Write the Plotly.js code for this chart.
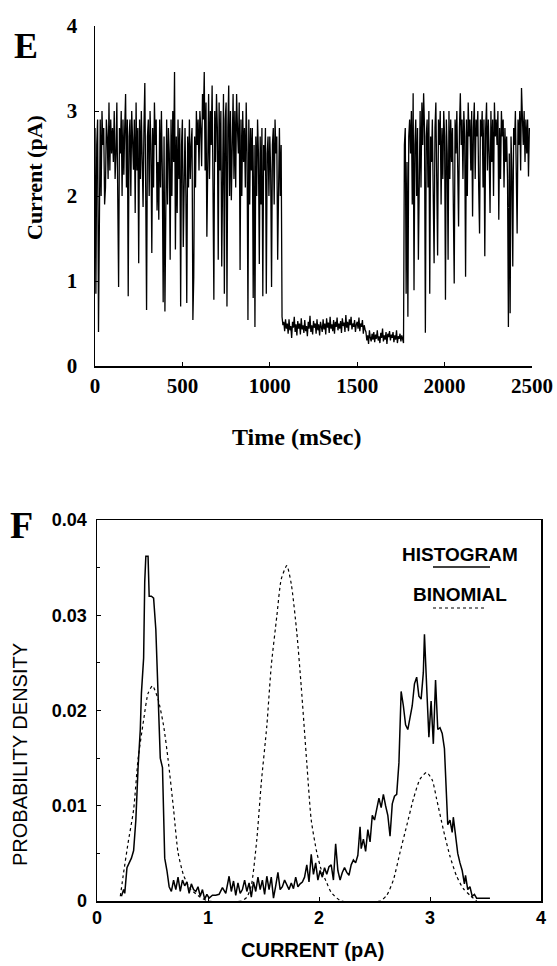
<!DOCTYPE html>
<html>
<head>
<meta charset="utf-8">
<script src="https://cdn.plot.ly/plotly-3.0.1.min.js"></script>
<style>
html,body{margin:0;padding:0;background:#fff;}
#chart{width:557px;height:966px;}
</style>
</head>
<body>
<div id="chart"></div>
<script>
// ---------- Panel E: single-channel current trace ----------
const traceStartMs = 0;
const traceStepMs = 5;
const traceCurrent = [
  2.8, 0.85, 2.6, 2.9, 0.4, 2.5, 2.9, 2.0, 3.0, 2.6, 2.8, 1.9, 2.1, 2.9, 2.7, 2.2, 3.1, 2.3, 2.9, 2.5,
  2.8, 2.4, 3.0, 2.2, 2.5, 3.1, 1.9, 0.93, 2.8, 2.5, 3.0, 2.0, 2.9, 2.25, 2.8, 3.2, 2.1, 2.9, 0.82, 2.7,
  2.9, 2.0, 3.0, 2.7, 2.31, 2.9, 1.8, 3.1, 2.3, 2.8, 1.21, 2.9, 2.2, 3.0, 2.5, 1.87, 2.8, 3.33, 2.1, 0.66,
  2.7, 2.9, 2.0, 3.0, 2.6, 1.33, 2.8, 2.1, 3.1, 2.6, 2.9, 1.83, 2.4, 1.72, 2.9, 2.1, 3.0, 2.3, 0.75, 2.7,
  0.64, 2.6, 2.9, 1.9, 2.8, 2.5, 1.25, 2.9, 2.0, 3.0, 2.4, 3.46, 1.37, 2.7, 1.8, 2.9, 2.2, 2.8, 0.7, 2.6,
  2.9, 1.4, 2.5, 2.8, 2.0, 0.74, 2.7, 2.1, 2.9, 2.2, 2.6, 2.8, 0.54, 1.05, 2.7, 2.1, 3.0, 2.6, 2.9, 2.3,
  3.0, 2.8, 2.35, 3.2, 2.9, 3.46, 2.3, 3.1, 1.52, 2.9, 3.2, 2.2, 3.0, 2.6, 3.3, 2.1, 0.78, 3.0, 2.4, 3.2,
  2.8, 1.25, 3.1, 2.3, 3.0, 1.17, 2.8, 3.2, 0.85, 2.9, 3.1, 0.7, 2.8, 3.3, 2.0, 3.0, 1.95, 2.9, 3.2, 2.2,
  3.0, 2.1, 3.2, 2.8, 2.5, 3.1, 1.13, 2.9, 2.0, 3.0, 2.4, 2.8, 2.1, 3.1, 2.5, 0.54, 2.9, 1.9, 2.8, 2.3,
  2.8, 0.8, 2.6, 0.46, 2.7, 2.0, 2.9, 2.5, 1.2, 2.7, 1.9, 2.8, 0.82, 2.6, 2.3, 2.8, 0.85, 2.5, 2.7, 2.0,
  2.7, 2.3, 0.93, 2.6, 2.8, 1.9, 2.9, 2.5, 2.7, 1.25, 2.4, 2.8, 2.0, 2.6, 0.58, 0.48, 0.52, 0.41, 0.55, 0.44,
  0.50, 0.38, 0.55, 0.42, 0.47, 0.33, 0.52, 0.45, 0.58, 0.40, 0.49, 0.36, 0.53, 0.44, 0.50, 0.37, 0.56, 0.43, 0.48, 0.39,
  0.54, 0.41, 0.47, 0.35, 0.52, 0.44, 0.59, 0.40, 0.48, 0.37, 0.53, 0.45, 0.50, 0.38, 0.55, 0.42, 0.49, 0.36, 0.52, 0.46,
  0.40, 0.55, 0.43, 0.50, 0.37, 0.56, 0.45, 0.51, 0.39, 0.58, 0.44, 0.49, 0.41, 0.54, 0.38, 0.52, 0.46, 0.57, 0.42, 0.50,
  0.44, 0.53, 0.39, 0.56, 0.47, 0.51, 0.40, 0.60, 0.45, 0.52, 0.41, 0.55, 0.48, 0.58, 0.43, 0.50, 0.46, 0.54, 0.40, 0.49,
  0.52, 0.44, 0.57, 0.41, 0.50, 0.46, 0.54, 0.38, 0.48, 0.43, 0.40, 0.30, 0.36, 0.26, 0.42, 0.33, 0.29, 0.38, 0.31, 0.40,
  0.28, 0.37, 0.32, 0.42, 0.30, 0.35, 0.27, 0.39, 0.33, 0.44, 0.29, 0.36, 0.31, 0.40, 0.26, 0.38, 0.34, 0.41, 0.30, 0.37,
  0.33, 0.40, 0.28, 0.36, 0.31, 0.42, 0.27, 0.35, 0.32, 0.38, 0.29, 0.36, 0.30, 0.27, 2.6, 2.8, 0.85, 2.4, 0.58, 2.7,
  2.9, 2.5, 3.0, 1.9, 3.21, 0.89, 2.6, 2.9, 2.0, 2.8, 1.25, 2.7, 3.0, 2.1, 3.1, 2.6, 3.21, 2.8, 0.39, 2.7,
  2.9, 2.1, 3.0, 0.85, 2.7, 2.4, 2.9, 2.0, 1.21, 2.8, 3.1, 2.2, 1.3, 2.9, 2.6, 3.0, 1.9, 2.8, 2.2, 3.0,
  2.7, 0.78, 2.9, 2.5, 1.25, 3.0, 2.2, 2.9, 2.4, 2.8, 2.0, 0.97, 2.9, 2.5, 3.0, 2.1, 1.64, 2.8, 3.21, 2.6,
  2.9, 2.2, 3.0, 2.7, 1.05, 2.9, 2.0, 3.1, 2.7, 2.9, 2.3, 3.0, 1.76, 2.8, 3.1, 2.2, 2.9, 2.7, 3.0, 2.1,
  1.56, 2.9, 2.7, 3.0, 2.1, 2.9, 1.29, 2.8, 3.1, 2.3, 2.9, 2.5, 1.8, 3.0, 2.4, 2.9, 2.0, 3.1, 2.7, 2.9,
  2.6, 3.0, 1.72, 2.8, 2.2, 3.0, 2.7, 2.9, 2.1, 2.8, 2.4, 2.7, 2.2, 0.46, 2.5, 0.62, 2.7, 2.3, 1.17, 2.8,
  2.6, 3.0, 2.4, 1.56, 2.9, 2.6, 3.0, 2.3, 3.27, 2.8, 2.6, 3.0, 2.4, 2.9, 2.5, 2.9, 2.23, 2.8
];
const timeTicks = [0, 500, 1000, 1500, 2000, 2500];
const currentTicks = [0, 1, 2, 3, 4];

// ---------- Panel F: amplitude histogram and binomial prediction ----------
const histCurrent = [
  0.22, 0.24, 0.25, 0.27, 0.29, 0.31, 0.33, 0.35, 0.37, 0.39, 0.40, 0.42, 0.43, 0.44, 0.46, 0.47, 0.49, 0.51, 0.53, 0.55,
  0.57, 0.59, 0.61, 0.63, 0.65, 0.67, 0.69, 0.71, 0.73, 0.75, 0.77, 0.79, 0.81, 0.83, 0.85, 0.87, 0.89, 0.91, 0.93, 0.95,
  0.97, 0.99, 1.01, 1.04, 1.07, 1.10, 1.13, 1.16, 1.19, 1.21, 1.23, 1.25, 1.27, 1.29, 1.31, 1.33, 1.35, 1.37, 1.39, 1.41,
  1.43, 1.45, 1.47, 1.49, 1.51, 1.53, 1.55, 1.57, 1.59, 1.61, 1.63, 1.65, 1.67, 1.69, 1.71, 1.73, 1.75, 1.77, 1.79, 1.81,
  1.83, 1.85, 1.87, 1.89, 1.91, 1.93, 1.95, 1.97, 1.99, 2.01, 2.03, 2.05, 2.07, 2.09, 2.11, 2.13, 2.15, 2.17, 2.19, 2.21,
  2.23, 2.25, 2.27, 2.29, 2.31, 2.33, 2.35, 2.37, 2.38, 2.40, 2.42, 2.44, 2.46, 2.48, 2.50, 2.52, 2.54, 2.56, 2.58, 2.60,
  2.62, 2.64, 2.66, 2.68, 2.70, 2.72, 2.74, 2.76, 2.78, 2.80, 2.82, 2.84, 2.86, 2.88, 2.90, 2.92, 2.94, 2.95, 2.97, 2.99,
  3.01, 3.03, 3.05, 3.07, 3.09, 3.11, 3.13, 3.15, 3.16, 3.18, 3.20, 3.21, 3.23, 3.25, 3.27, 3.29, 3.31, 3.32, 3.34, 3.36,
  3.38, 3.40, 3.42, 3.54
];
const histDensity = [
  0.0005, 0.0012, 0.0008, 0.0035, 0.0040, 0.0045, 0.0053, 0.0085, 0.0140, 0.0180, 0.0218, 0.0255, 0.0335, 0.0362, 0.0362, 0.0320, 0.0320, 0.0318, 0.0285, 0.0225,
  0.0150, 0.0140, 0.0045, 0.0032, 0.0015, 0.0010, 0.0022, 0.0012, 0.0025, 0.0010, 0.0022, 0.0016, 0.0020, 0.0008, 0.0018, 0.0012, 0.0010, 0.0015, 0.0005, 0.0012,
  0.0002, 0.0007, 0.0003, 0.0006, 0.0006, 0.0007, 0.0014, 0.0008, 0.0026, 0.0010, 0.0021, 0.0006, 0.0019, 0.0008, 0.0012, 0.0022, 0.0010, 0.0019, 0.0004, 0.0020,
  0.0010, 0.0025, 0.0012, 0.0022, 0.0007, 0.0026, 0.0012, 0.0025, 0.0003, 0.0016, 0.0030, 0.0012, 0.0015, 0.0022, 0.0016, 0.0012, 0.0019, 0.0013, 0.0025, 0.0015,
  0.0018, 0.0020, 0.0025, 0.0038, 0.0020, 0.0049, 0.0028, 0.0040, 0.0022, 0.0032, 0.0025, 0.0035, 0.0028, 0.0036, 0.0038, 0.0022, 0.0060, 0.0032, 0.0022, 0.0030,
  0.0035, 0.0030, 0.0027, 0.0038, 0.0043, 0.0040, 0.0048, 0.0078, 0.0055, 0.0065, 0.0052, 0.0075, 0.0062, 0.0090, 0.0085, 0.0098, 0.0108, 0.0098, 0.0112, 0.0100,
  0.0090, 0.0068, 0.0102, 0.0110, 0.0112, 0.0145, 0.0220, 0.0205, 0.0185, 0.0180, 0.0195, 0.0205, 0.0228, 0.0235, 0.0215, 0.0212, 0.0240, 0.0280, 0.0225, 0.0172,
  0.0210, 0.0165, 0.0232, 0.0180, 0.0182, 0.0176, 0.0160, 0.0100, 0.0080, 0.0085, 0.0072, 0.0088, 0.0070, 0.0050, 0.0040, 0.0032, 0.0018, 0.0027, 0.0012, 0.0015,
  0.0005, 0.0007, 0.0003, 0.0003
];
const binomCurrent = [
  0.21, 0.24, 0.28, 0.33, 0.37, 0.42, 0.46, 0.50, 0.55, 0.60, 0.64, 0.69, 0.73, 0.78, 0.84, 0.93, 1.00,
  1.30, 1.35, 1.39, 1.44, 1.48, 1.53, 1.57, 1.62, 1.66, 1.71, 1.75, 1.80, 1.84, 1.89, 1.93, 1.98, 2.02, 2.07, 2.11, 2.20,
  2.55, 2.61, 2.67, 2.73, 2.79, 2.85, 2.91, 2.97, 3.02, 3.06, 3.12, 3.18, 3.24, 3.30, 3.36, 3.42
];
const binomDensity = [
  0.0005, 0.0030, 0.0061, 0.0096, 0.0149, 0.0190, 0.0218, 0.0226, 0.0212, 0.0184, 0.0149, 0.0096, 0.0051, 0.0027, 0.0013, 0.0004, 0,
  0, 0.0004, 0.0016, 0.0065, 0.0124, 0.0184, 0.0247, 0.0299, 0.0338, 0.0352, 0.0333, 0.0282, 0.0225, 0.0145, 0.0085, 0.0051, 0.0033, 0.0019, 0.0009, 0,
  0, 0.0006, 0.0022, 0.0051, 0.0079, 0.0107, 0.0128, 0.0135, 0.0127, 0.0107, 0.0075, 0.0047, 0.0026, 0.0013, 0.0006, 0
];
const ampTicks = [0, 1, 2, 3, 4];
const densityTicks = [0, 0.01, 0.02, 0.03, 0.04];
const densityTickText = ['0', '0.01', '0.02', '0.03', '0.04'];

// ---------- build ----------
const traceTime = traceCurrent.map((_, i) => traceStartMs + i * traceStepMs);

const serif = 'Liberation Serif, Times New Roman, serif';
const sans = 'Liberation Sans, Arial, Helvetica, sans-serif';

const data = [
  {x: traceTime, y: traceCurrent, xaxis: 'x', yaxis: 'y', type: 'scatter', mode: 'lines',
   line: {color: '#000', width: 1.3}, hoverinfo: 'skip', showlegend: false},
  {x: histCurrent, y: histDensity, xaxis: 'x2', yaxis: 'y2', type: 'scatter', mode: 'lines',
   line: {color: '#000', width: 1.5}, name: 'HISTOGRAM', showlegend: false},
  {x: binomCurrent, y: binomDensity, xaxis: 'x2', yaxis: 'y2', type: 'scatter', mode: 'lines',
   line: {color: '#000', width: 1.2, dash: '3px,3px', shape: 'spline', smoothing: 0.6}, name: 'BINOMIAL', showlegend: false}
];

const W = 557, H = 966;
const px = v => v / W;
const py = v => 1 - v / H;

const layout = {
  width: W, height: H,
  margin: {l: 0, r: 0, t: 0, b: 0},
  paper_bgcolor: '#fff', plot_bgcolor: '#fff',
  showlegend: false,
  xaxis: {
    domain: [px(95), px(532)], range: [0, 2500], anchor: 'y',
    showline: true, linecolor: '#000', linewidth: 2, mirror: false,
    ticks: 'inside', ticklen: 4, tickcolor: '#000', tickwidth: 1,
    tickvals: timeTicks, showgrid: false, zeroline: false,
    tickfont: {family: serif, size: 21, color: '#000', weight: 'bold'}
  },
  yaxis: {
    domain: [py(366), py(26)], range: [0, 4], anchor: 'x',
    showline: true, linecolor: '#000', linewidth: 1.5, mirror: false,
    ticks: 'inside', ticklen: 4, tickcolor: '#000', tickwidth: 1,
    tickvals: currentTicks, showgrid: false, zeroline: false, ticklabelstandoff: 12,
    tickfont: {family: serif, size: 21, color: '#000', weight: 'bold'}
  },
  xaxis2: {
    domain: [px(97), px(541)], range: [0, 4], anchor: 'y2',
    showline: true, linecolor: '#000', linewidth: 1.5, mirror: true,
    ticks: 'inside', ticklen: 4, tickcolor: '#000', tickwidth: 1,
    tickvals: ampTicks, showgrid: false, zeroline: false,
    tickfont: {family: sans, size: 18, color: '#000', weight: 'bold'}
  },
  yaxis2: {
    domain: [py(901), py(520)], range: [0, 0.04], anchor: 'x2',
    showline: true, linecolor: '#000', linewidth: 1.5, mirror: true,
    ticks: 'inside', ticklen: 4, tickcolor: '#000', tickwidth: 1,
    tickvals: densityTicks, ticktext: densityTickText, showgrid: false, zeroline: false, ticklabelstandoff: 5,
    minor: {dtick: 0.005, ticks: 'inside', ticklen: 3, tickcolor: '#000', showgrid: false},
    tickfont: {family: sans, size: 18, color: '#000', weight: 'bold'}
  },
  annotations: [
    {text: 'E', xref: 'paper', yref: 'paper', x: px(26), y: py(46), xanchor: 'center', yanchor: 'middle',
     showarrow: false, font: {family: serif, size: 36, color: '#000', weight: 'bold'}},
    {text: 'Current (pA)', xref: 'paper', yref: 'paper', x: px(35), y: py(178), xanchor: 'center', yanchor: 'middle',
     textangle: -90, showarrow: false, font: {family: serif, size: 22, color: '#000', weight: 'bold'}},
    {text: 'Time (mSec)', xref: 'paper', yref: 'paper', x: px(297), y: py(437), xanchor: 'center', yanchor: 'middle',
     showarrow: false, font: {family: serif, size: 24, color: '#000', weight: 'bold'}},
    {text: 'F', xref: 'paper', yref: 'paper', x: px(21), y: py(525), xanchor: 'center', yanchor: 'middle',
     showarrow: false, font: {family: serif, size: 38, color: '#000', weight: 'bold'}},
    {text: 'PROBABILITY DENSITY', xref: 'paper', yref: 'paper', x: px(20), y: py(755), xanchor: 'center', yanchor: 'middle',
     textangle: -90, showarrow: false, font: {family: sans, size: 20, color: '#000'}},
    {text: 'CURRENT (pA)', xref: 'paper', yref: 'paper', x: px(312), y: py(950), xanchor: 'center', yanchor: 'middle',
     showarrow: false, font: {family: sans, size: 20, color: '#000', weight: 'bold'}},
    {text: 'HISTOGRAM', xref: 'paper', yref: 'paper', x: px(460), y: py(554), xanchor: 'center', yanchor: 'middle',
     showarrow: false, font: {family: sans, size: 19, color: '#000', weight: 'bold'}},
    {text: 'BINOMIAL', xref: 'paper', yref: 'paper', x: px(460), y: py(594), xanchor: 'center', yanchor: 'middle',
     showarrow: false, font: {family: sans, size: 19, color: '#000', weight: 'bold'}}
  ],
  shapes: [
    {type: 'line', xref: 'paper', yref: 'paper', x0: px(433), x1: px(490), y0: py(567), y1: py(567),
     line: {color: '#000', width: 1.6}},
    {type: 'line', xref: 'paper', yref: 'paper', x0: px(433), x1: px(487), y0: py(608), y1: py(608),
     line: {color: '#000', width: 1.2, dash: '3px,3px'}}
  ]
};

Plotly.newPlot('chart', data, layout, {staticPlot: true, displayModeBar: false});
</script>
</body>
</html>
